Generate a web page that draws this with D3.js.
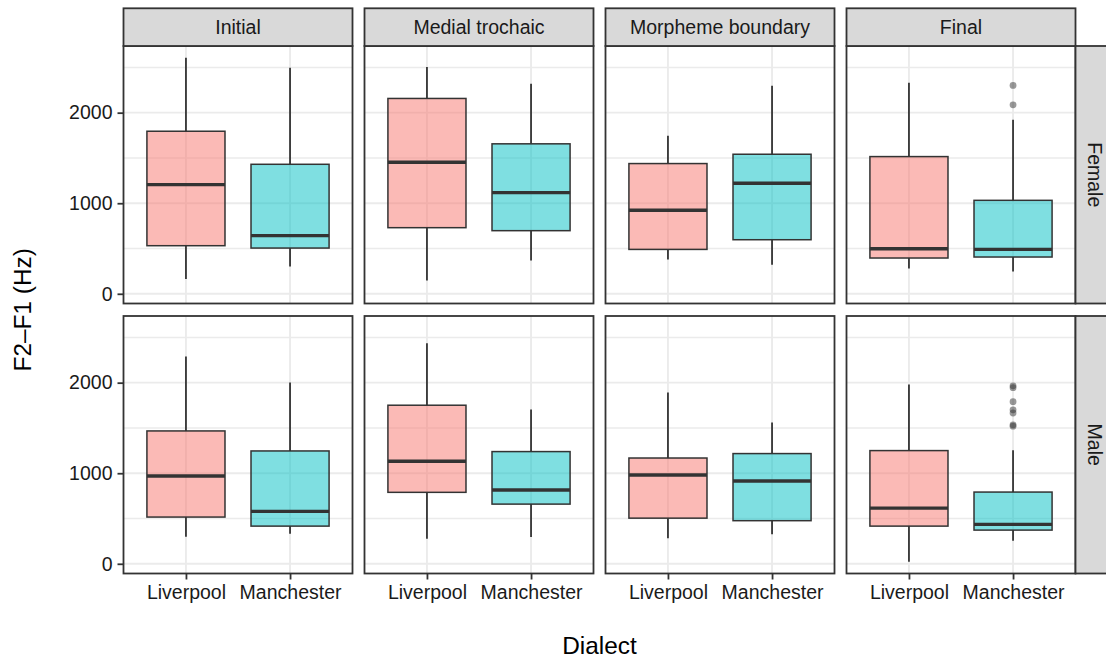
<!DOCTYPE html>
<html>
<head>
<meta charset="utf-8">
<script src="https://cdn.jsdelivr.net/npm/d3@7"></script>
<style>
  html, body { margin: 0; padding: 0; background: #ffffff; }
  svg { display: block; }
  text { font-family: "Liberation Sans", Arial, Helvetica, sans-serif; }
</style>
</head>
<body>
<svg id="chart" width="1106" height="659"></svg>
<script>
// ---------- data ----------
const positions = ["Initial", "Medial trochaic", "Morpheme boundary", "Final"];
const genders = ["Female", "Male"];
const dialects = ["Liverpool", "Manchester"];
const dialectColors = ["#F8766D", "#00BFC4"];
const yTickValues = [0, 1000, 2000];
const yMinorValues = [500, 1500, 2500];

// indexed [gender][position][dialect]
const whiskerLow = [
  [[163, 302], [147, 368], [380, 321], [280, 247]],
  [[299, 332], [277, 295], [283, 327], [22, 254]]
];
const q1 = [
  [[531, 505], [730, 697], [490, 597], [395, 406]],
  [[516, 416], [789, 659], [504, 476], [416, 372]]
];
const median = [
  [[1206, 642], [1452, 1117], [922, 1220], [498, 490]],
  [[969, 579], [1132, 814], [980, 914], [615, 435]]
];
const q3 = [
  [[1795, 1430], [2157, 1656], [1438, 1541], [1515, 1032]],
  [[1467, 1246], [1751, 1239], [1168, 1217], [1250, 792]]
];
const whiskerHigh = [
  [[2607, 2497], [2504, 2320], [1744, 2297], [2331, 1921]],
  [[2290, 2002], [2434, 1704], [1892, 1560], [1980, 1253]]
];
const outliers = [
  [[[], []], [[], []], [[], []], [[], [2087, 2301]]],
  [[[], []], [[], []], [[], []], [[], [1520, 1535, 1665, 1700, 1790, 1945, 1965]]]
];

// ---------- layout ----------
const W = 1106, H = 659;
const panelLeft = 123.5, panelW = 229, colGap = 12;
const panelTop = 46, panelH = 257.5, rowGap = 12.5;
const stripTop = 8.3;
const rightStripW = 39;
const ink = "#333333";
const fontSmall = 19.5, fontTitle = 24.4;

const svg = d3.select("#chart");
svg.append("rect").attr("width", W).attr("height", H).attr("fill", "#fff");

// y scale (ggplot style: data range expanded by 5%)
const allVals = [whiskerLow, whiskerHigh, outliers].flat(Infinity);
const [dMin, dMax] = d3.extent(allVals);
const pad = (dMax - dMin) * 0.05;
const yScale = d3.scaleLinear().domain([dMin - pad, dMax + pad]).range([panelH, 0]);
// x scale: discrete positions 1..n with 0.6 expansion
const xScale = d3.scaleLinear().domain([0.4, dialects.length + 0.6]).range([0, panelW]);
const boxW = xScale(0.75) - xScale(0);

genders.forEach((g, gi) => {
  positions.forEach((p, pi) => {
    const px = panelLeft + pi * (panelW + colGap);
    const py = panelTop + gi * (panelH + rowGap);
    const panel = svg.append("g").attr("transform", `translate(${px},${py})`);

    panel.append("rect").attr("width", panelW).attr("height", panelH).attr("fill", "#fff");

    // minor grid
    panel.selectAll(".minor").data(yMinorValues).join("line")
      .attr("x1", 0).attr("x2", panelW)
      .attr("y1", d => yScale(d)).attr("y2", d => yScale(d))
      .attr("stroke", "#EBEBEB").attr("stroke-width", 1.5);
    // major grid
    panel.selectAll(".majorY").data(yTickValues).join("line")
      .attr("x1", 0).attr("x2", panelW)
      .attr("y1", d => yScale(d)).attr("y2", d => yScale(d))
      .attr("stroke", "#EBEBEB").attr("stroke-width", 1.9);
    panel.selectAll(".majorX").data(dialects).join("line")
      .attr("x1", (d, i) => xScale(i + 1)).attr("x2", (d, i) => xScale(i + 1))
      .attr("y1", 0).attr("y2", panelH)
      .attr("stroke", "#EBEBEB").attr("stroke-width", 1.9);

    // boxplots
    dialects.forEach((dl, di) => {
      const cx = xScale(di + 1);
      const lo = whiskerLow[gi][pi][di], a = q1[gi][pi][di], m = median[gi][pi][di],
            b = q3[gi][pi][di], hi = whiskerHigh[gi][pi][di];
      const bg = panel.append("g");
      bg.append("line").attr("x1", cx).attr("x2", cx).attr("y1", yScale(b)).attr("y2", yScale(hi))
        .attr("stroke", ink).attr("stroke-width", 1.8);
      bg.append("line").attr("x1", cx).attr("x2", cx).attr("y1", yScale(a)).attr("y2", yScale(lo))
        .attr("stroke", ink).attr("stroke-width", 1.8);
      bg.append("rect").attr("x", cx - boxW / 2).attr("width", boxW)
        .attr("y", yScale(b)).attr("height", yScale(a) - yScale(b))
        .attr("fill", dialectColors[di]).attr("fill-opacity", 0.5)
        .attr("stroke", ink).attr("stroke-width", 1.5);
      bg.append("line").attr("x1", cx - boxW / 2).attr("x2", cx + boxW / 2)
        .attr("y1", yScale(m)).attr("y2", yScale(m))
        .attr("stroke", ink).attr("stroke-width", 3.4);
      bg.selectAll("circle").data(outliers[gi][pi][di]).join("circle")
        .attr("cx", cx).attr("cy", d => yScale(d)).attr("r", 3.4)
        .attr("fill", ink).attr("fill-opacity", 0.5);
    });

    // border
    panel.append("rect").attr("width", panelW).attr("height", panelH)
      .attr("fill", "none").attr("stroke", ink).attr("stroke-width", 1.8);

    // y axis on first column
    if (pi === 0) {
      const yAxis = d3.axisLeft(yScale).tickValues(yTickValues).tickSize(6).tickPadding(5).tickFormat(d3.format("d"));
      const ag = panel.append("g").call(yAxis);
      ag.select(".domain").remove();
      ag.selectAll(".tick line").attr("stroke", ink).attr("stroke-width", 1.8);
      ag.selectAll(".tick text").attr("fill", "#1a1a1a").attr("font-size", fontSmall)
        .attr("font-family", "Liberation Sans, Arial, sans-serif");
    }
    // x axis on bottom row
    if (gi === genders.length - 1) {
      const xb = d3.scalePoint().domain(dialects).range([xScale(1), xScale(dialects.length)]);
      const xAxis = d3.axisBottom(xb).tickSize(6).tickPadding(6);
      const ag = panel.append("g").attr("transform", `translate(0,${panelH})`).call(xAxis);
      ag.select(".domain").remove();
      ag.selectAll(".tick line").attr("stroke", ink).attr("stroke-width", 1.8);
      ag.selectAll(".tick text").attr("fill", "#1a1a1a").attr("font-size", fontSmall)
        .attr("font-family", "Liberation Sans, Arial, sans-serif");
    }

    // top strips
    if (gi === 0) {
      const sg = svg.append("g").attr("transform", `translate(${px},${stripTop})`);
      sg.append("rect").attr("width", panelW).attr("height", panelTop - stripTop)
        .attr("fill", "#D9D9D9").attr("stroke", ink).attr("stroke-width", 1.8);
      sg.append("text").attr("x", panelW / 2).attr("y", (panelTop - stripTop) / 2)
        .attr("dy", "0.35em").attr("text-anchor", "middle")
        .attr("font-size", fontSmall).attr("fill", "#1a1a1a").text(p);
    }
    // right strips
    if (pi === positions.length - 1) {
      const sx = px + panelW;
      const sg = svg.append("g").attr("transform", `translate(${sx},${py})`);
      sg.append("rect").attr("width", rightStripW).attr("height", panelH)
        .attr("fill", "#D9D9D9").attr("stroke", ink).attr("stroke-width", 1.8);
      sg.append("text")
        .attr("transform", `translate(${rightStripW / 2},${panelH / 2}) rotate(90)`)
        .attr("dy", "0.35em").attr("text-anchor", "middle")
        .attr("font-size", fontSmall).attr("fill", "#1a1a1a").text(g);
    }
  });
});

// axis titles
const plotRight = panelLeft + positions.length * panelW + (positions.length - 1) * colGap;
svg.append("text").attr("x", (panelLeft + plotRight) / 2).attr("y", 654)
  .attr("text-anchor", "middle").attr("font-size", fontTitle).attr("fill", "#000").text("Dialect");
const plotBottom = panelTop + 2 * panelH + rowGap;
svg.append("text")
  .attr("transform", `translate(31,${(panelTop + plotBottom) / 2}) rotate(-90)`)
  .attr("text-anchor", "middle").attr("font-size", fontTitle).attr("fill", "#000").text("F2–F1 (Hz)");
</script>
</body>
</html>
